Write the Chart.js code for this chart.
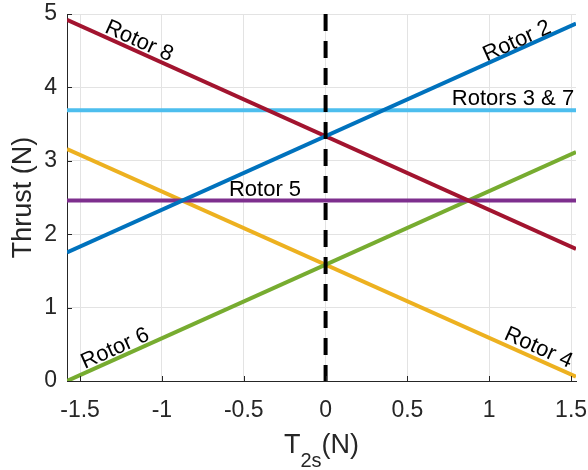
<!DOCTYPE html>
<html>
<head>
<meta charset="utf-8">
<script src="https://cdn.jsdelivr.net/npm/chart.js@4.4.1/dist/chart.umd.min.js"></script>
<style>
    html, body { margin: 0; padding: 0; background: #fff; }
    #wrap { width: 588px; height: 470px; }
</style>
</head>
<body>
<div id="wrap"><canvas id="thrustChart" width="588" height="470"></canvas></div>
<script>
// 데이터: 선의 양 끝점 (x 범위의 양 끝)
const xEnds = [-1.58, 1.53];
const rotor8 = [4.92, 1.80];
const rotor2 = [1.75, 4.87];
const rotors37 = [3.69, 3.69];
const rotor5 = [2.46, 2.46];
const rotor6 = [0.0, 3.12];
const rotor4 = [3.16, 0.06];

// x = 0 의 점선 (위에서 아래로)
const dividerX = [0, 0];
const dividerY = [5, 0];

const xTicks = [-1.5, -1, -0.5, 0, 0.5, 1, 1.5];
const yTicks = [0, 1, 2, 3, 4, 5];

// 선 라벨 (데이터 좌표 중심, 어느 선과 평행인지)
const lineLabels = [
    { text: 'Rotor 8', x: -1.14, y: 4.63, along: 'rotor8' },
    { text: 'Rotor 2', x: 1.17, y: 4.63, along: 'rotor2' },
    { text: 'Rotors 3 & 7', x: 1.145, y: 3.84, along: null },
    { text: 'Rotor 5', x: -0.37, y: 2.60, along: null },
    { text: 'Rotor 6', x: -1.285, y: 0.44, along: 'rotor6' },
    { text: 'Rotor 4', x: 1.30, y: 0.45, along: 'rotor4' }
];

const FONT = '"Liberation Sans", Arial, Helvetica, sans-serif';
const INK = '#262626';

function toPoints(xs, ys) {
    return xs.map((x, i) => ({ x, y: ys[i] }));
}

function line(id, values, color, order) {
    return {
        id,
        data: toPoints(xEnds, values),
        borderColor: color,
        backgroundColor: color,
        borderWidth: 4,
        pointRadius: 0,
        fill: false,
        order
    };
}

/**
 * 회전된 라벨, 안쪽 눈금, x축 제목(아래 첨자)을 그림
 */
const decorPlugin = {
    id: 'decor',
    afterDatasetsDraw(chart) {
        const ctx = chart.ctx;
        const xs = chart.scales.x;
        const ys = chart.scales.y;
        const area = chart.chartArea;

        // 안쪽 눈금
        ctx.save();
        ctx.strokeStyle = INK;
        ctx.lineWidth = 1;
        ctx.beginPath();
        xTicks.forEach(v => {
            const px = Math.round(xs.getPixelForValue(v)) + 0.5;
            ctx.moveTo(px, area.bottom);
            ctx.lineTo(px, area.bottom - 5);
        });
        yTicks.forEach(v => {
            const py = Math.round(ys.getPixelForValue(v)) + 0.5;
            ctx.moveTo(area.left, py);
            ctx.lineTo(area.left + 5, py);
        });
        ctx.stroke();
        ctx.restore();

        // 라벨
        ctx.save();
        ctx.font = '22px ' + FONT;
        ctx.fillStyle = '#000';
        ctx.textAlign = 'center';
        ctx.textBaseline = 'middle';
        lineLabels.forEach(l => {
            let angle = 0;
            if (l.along) {
                const ds = chart.data.datasets.find(d => d.id === l.along);
                const p0 = ds.data[0], p1 = ds.data[1];
                const dx = xs.getPixelForValue(p1.x) - xs.getPixelForValue(p0.x);
                const dy = ys.getPixelForValue(p1.y) - ys.getPixelForValue(p0.y);
                angle = Math.atan2(dy, dx);
            }
            ctx.save();
            ctx.translate(xs.getPixelForValue(l.x), ys.getPixelForValue(l.y));
            ctx.rotate(angle);
            ctx.fillText(l.text, 0, 0);
            ctx.restore();
        });
        ctx.restore();

        // x축 제목: T_2s(N)
        ctx.save();
        ctx.fillStyle = INK;
        ctx.textBaseline = 'alphabetic';
        ctx.textAlign = 'left';
        const big = '27px ' + FONT;
        const small = '20px ' + FONT;
        ctx.font = big;
        const wT = ctx.measureText('T').width;
        const wN = ctx.measureText('(N)').width;
        ctx.font = small;
        const wS = ctx.measureText('2s').width;
        const total = wT + wS + wN;
        let cx = (area.left + area.right) / 2 - total / 2;
        const base = 453;
        ctx.font = big;
        ctx.fillText('T', cx, base);
        cx += wT;
        ctx.font = small;
        ctx.fillText('2s', cx, base + 14);
        cx += wS;
        ctx.font = big;
        ctx.fillText('(N)', cx, base);
        ctx.restore();
    }
};

const chart = new Chart(document.getElementById('thrustChart'), {
    type: 'line',
    data: {
        datasets: [
            {
                id: 'divider',
                data: toPoints(dividerX, dividerY),
                borderColor: '#000',
                borderWidth: 4,
                borderDash: [17, 10],
                pointRadius: 0,
                fill: false,
                order: 0
            },
            line('rotor8', rotor8, '#A2142F', 2),
            line('rotor2', rotor2, '#0072BD', 1),
            line('rotors37', rotors37, '#4DBEEE', 3),
            line('rotor5', rotor5, '#7E2F8E', 4),
            line('rotor6', rotor6, '#77AC30', 5),
            line('rotor4', rotor4, '#EDB120', 6)
        ]
    },
    options: {
        responsive: false,
        devicePixelRatio: 1,
        animation: false,
        layout: { padding: { top: 14, right: 12, left: 0, bottom: 0 } },
        plugins: {
            legend: { display: false },
            tooltip: { enabled: false }
        },
        scales: {
            x: {
                type: 'linear',
                min: xEnds[0],
                max: xEnds[1],
                afterBuildTicks: axis => { axis.ticks = xTicks.map(v => ({ value: v })); },
                afterFit: axis => {
                    axis.height = 89;
                    axis.paddingLeft = 0;
                    axis.paddingRight = 0;
                },
                grid: { color: '#e3e3e3', drawTicks: false },
                border: { color: INK, width: 1 },
                ticks: {
                    color: INK,
                    padding: 16,
                    maxRotation: 0,
                    autoSkip: false,
                    font: { family: FONT, size: 23 },
                    callback: v => String(v)
                }
            },
            y: {
                type: 'linear',
                min: 0,
                max: 5,
                afterBuildTicks: axis => { axis.ticks = yTicks.map(v => ({ value: v })); },
                afterFit: axis => {
                    axis.width = 67;
                    axis.paddingTop = 0;
                    axis.paddingBottom = 0;
                },
                grid: { color: '#e3e3e3', drawTicks: false },
                border: { color: INK, width: 1 },
                title: {
                    display: true,
                    text: 'Thrust (N)',
                    color: INK,
                    padding: { top: 7, bottom: 0 },
                    font: { family: FONT, size: 27 }
                },
                ticks: {
                    color: INK,
                    padding: 10,
                    font: { family: FONT, size: 23 },
                    callback: v => String(v)
                }
            }
        }
    },
    plugins: [decorPlugin]
});
</script>
</body>
</html>
